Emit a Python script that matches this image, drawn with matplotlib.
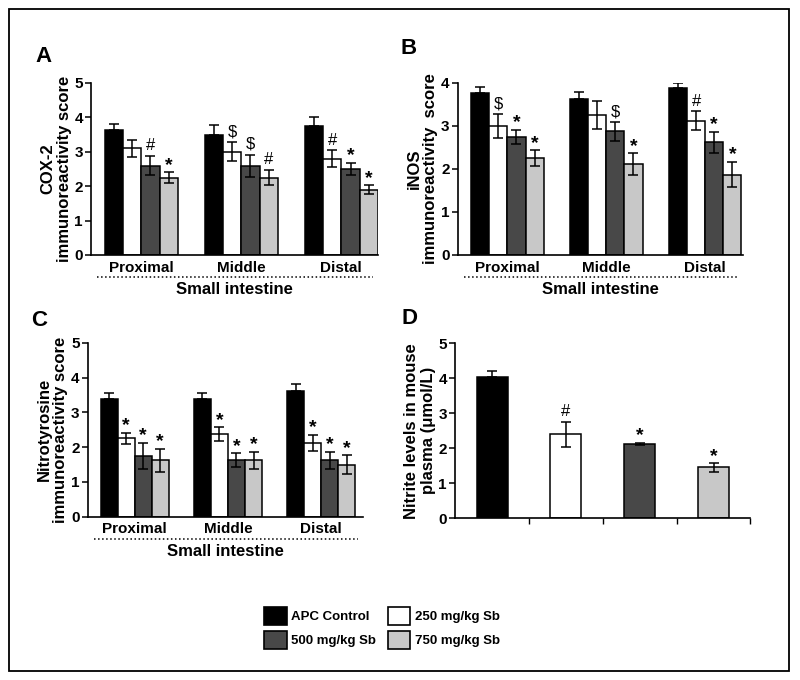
import matplotlib
matplotlib.use("Agg")
import matplotlib.pyplot as plt
import matplotlib.transforms as mtransforms
from matplotlib.patches import Patch, Rectangle
import numpy as np

plt.rcParams['font.family'] = ['Liberation Sans', 'DejaVu Sans']
plt.rcParams['font.weight'] = 'bold'

segments = ['Proximal', 'Middle', 'Distal']
groups = ['APC Control', '250 mg/kg Sb', '500 mg/kg Sb', '750 mg/kg Sb']
colors = ['#000000', '#ffffff', '#484848', '#c8c8c8']

# panel A: COX-2
cox_mean = [[3.62, 3.5, 3.75], [3.1, 3.0, 2.8], [2.6, 2.6, 2.5], [2.25, 2.25, 1.9]]
cox_err = [[0.18, 0.27, 0.27], [0.25, 0.27, 0.25], [0.28, 0.32, 0.18], [0.15, 0.23, 0.13]]
cox_sig = [['', '', ''], ['', '$', '#'], ['#', '$', '*'], ['*', '#', '*']]

# panel B: iNOS
inos_mean = [[3.77, 3.63, 3.88], [3.0, 3.25, 3.12], [2.75, 2.88, 2.62], [2.25, 2.12, 1.87]]
inos_err = [[0.14, 0.15, 0.11], [0.28, 0.32, 0.22], [0.16, 0.22, 0.25], [0.18, 0.25, 0.3]]
inos_sig = [['', '', ''], ['$', '', '#'], ['*', '$', '*'], ['*', '*', '*']]

# panel C: nitrotyrosine
nt_mean = [[3.38, 3.38, 3.62], [2.25, 2.37, 2.12], [1.75, 1.62, 1.62], [1.62, 1.62, 1.5]]
nt_err = [[0.17, 0.17, 0.2], [0.17, 0.2, 0.23], [0.37, 0.2, 0.25], [0.33, 0.25, 0.27]]
nt_sig = [['', '', ''], ['*', '*', '*'], ['*', '*', '*'], ['*', '*', '*']]

# panel D: plasma nitrite
nitrite_mean = [4.05, 2.4, 2.12, 1.45]
nitrite_err = [0.15, 0.35, 0.04, 0.12]
nitrite_sig = ['', '#', '*', '*']

fig = plt.figure(figsize=(8, 6.8), dpi=100)
fig.patches.append(Rectangle((9 / 800, 9 / 680), 780 / 800, 662 / 680, transform=fig.transFigure,
                             fill=False, edgecolor='black', linewidth=1.3))


def mark(ax, x, top, sym):
    if not sym:
        return
    if sym == '*':
        ax.annotate(sym, (x, top), xytext=(0, 5), textcoords='offset points', ha='center',
                    va='center', fontsize=14, fontweight='bold')
    else:
        ax.annotate(sym, (x, top), xytext=(0, 4), textcoords='offset points', ha='center',
                    va='baseline', fontsize=12, fontweight='normal')


def style(ax, ymax, ylabel):
    ax.set_ylim(0, ymax)
    ax.set_yticks(range(ymax + 1))
    for s in ['top', 'right']:
        ax.spines[s].set_visible(False)
    for s in ['left', 'bottom']:
        ax.spines[s].set_linewidth(1.2)
    ax.tick_params(axis='y', length=4, width=1.1, labelsize=11, pad=2)
    ax.set_ylabel(ylabel, fontsize=12, fontweight='bold', linespacing=1.1, labelpad=2)


def grouped(ax, means, errs, sigs, ymax, ylabel, xmax):
    w = 0.183
    x = np.arange(len(segments))
    for i in range(len(groups)):
        pos = x + (i - 1.5) * w
        lower = [0] * len(segments) if i == 0 else errs[i]
        ax.bar(pos, means[i], w, color=colors[i], edgecolor='black', linewidth=1.1,
               yerr=[lower, errs[i]], error_kw=dict(ecolor='black', elinewidth=1.1, capsize=3.5,
                                                    capthick=1.1))
        for j in range(len(segments)):
            mark(ax, pos[j], means[i][j] + errs[i][j], sigs[i][j])
    ax.set_xlim(-0.5, xmax)
    ax.set_xticks(x)
    ax.set_xticklabels(segments, fontsize=11, fontweight='bold')
    ax.tick_params(axis='x', length=0, pad=4)
    style(ax, ymax, ylabel)
    tr = mtransforms.offset_copy(ax.transAxes, fig=fig, y=-22, units='dots')
    ax.plot([0.02, 0.98], [0, 0], transform=tr, color='black', linestyle=':', linewidth=1.1,
            clip_on=False)
    tr2 = mtransforms.offset_copy(ax.transAxes, fig=fig, y=-35, units='dots')
    ax.text(0.5, 0, 'Small intestine', transform=tr2, ha='center', va='center', fontsize=12,
            fontweight='bold')


axA = fig.add_axes([0.114, 0.625, 0.359, 0.253])
grouped(axA, cox_mean, cox_err, cox_sig, 5, 'COX-2\nimmunoreactivity score', 2.37)
axB = fig.add_axes([0.5725, 0.625, 0.356, 0.253])
grouped(axB, inos_mean, inos_err, inos_sig, 4, 'iNOS\nimmunoreactivity  score', 2.38)
axC = fig.add_axes([0.11, 0.24, 0.344, 0.256])
grouped(axC, nt_mean, nt_err, nt_sig, 5, 'Nitrotyrosine\nimmunoreactivity score', 2.45)

axD = fig.add_axes([0.569, 0.238, 0.369, 0.257])
xd = np.arange(len(groups))
for i in range(len(groups)):
    lower = 0 if i == 0 else nitrite_err[i]
    axD.bar(xd[i], nitrite_mean[i], 0.42, color=colors[i], edgecolor='black', linewidth=1.1,
            yerr=[[lower], [nitrite_err[i]]],
            error_kw=dict(ecolor='black', elinewidth=1.1, capsize=3.5, capthick=1.1))
    mark(axD, xd[i], nitrite_mean[i] + nitrite_err[i], nitrite_sig[i])
axD.set_xlim(-0.5, 3.5)
axD.set_xticks(xd + 0.5)
axD.set_xticklabels([])
axD.tick_params(axis='x', length=4, width=1.0, direction='out')
style(axD, 5, 'Nitrite levels in mouse\nplasma (μmol/L)')

for letter, (px, py) in zip('ABCD', [(44, 57), (409, 48), (39, 320), (410, 319)]):
    fig.text(px / 800, 1 - py / 680, letter, fontsize=16, fontweight='bold', ha='center',
             va='center')

handles = [Patch(facecolor=colors[k], edgecolor='black', linewidth=1.2) for k in [0, 2, 1, 3]]
labels = [groups[k] for k in [0, 2, 1, 3]]
fig.legend(handles, labels, loc='center', bbox_to_anchor=(382 / 800, 1 - 628 / 680), ncol=2,
           frameon=False, handlelength=1.7, handleheight=1.8, handletextpad=0.35,
           columnspacing=0.9, labelspacing=0.4, borderpad=0, prop={'weight': 'bold', 'size': 9.5})

fig.savefig('out.png', dpi=100)
